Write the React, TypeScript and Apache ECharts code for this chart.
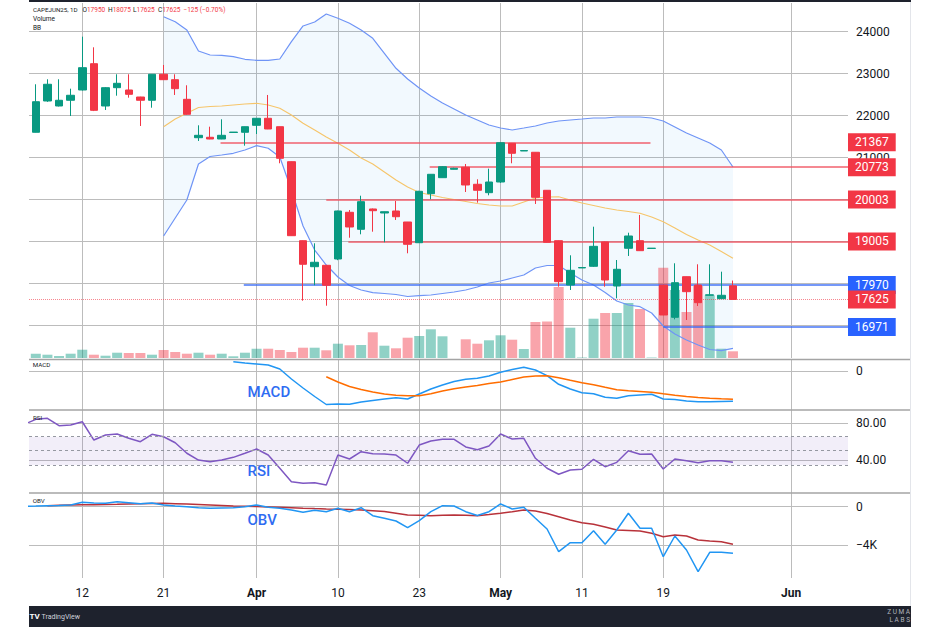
import React, { useEffect, useRef } from 'react';
import * as echarts from 'echarts';

// ---------- price bars (index 0..60) ----------
const opens = [21605, 22350, 22231, 22367, 22612, 23238, 22231, 22667, 22612, 22445, 22367, 22986, 22857, 22390, 21476, 21486, 21445, 21600, 21605, 21771, 21938, 21738, 20905, 19024, 18405, 18438, 18588, 19700, 19295, 19779, 19683, 19731, 19469, 18976, 20143, 20524, 20724, 20771, 20367, 20167, 20421, 21343, 21160, 21129, 20224, 19024, 17969, 18375, 18414, 18993, 17945, 18843, 19024, 18840, 17969, 17200, 18167, 17969, 17725, 17643, 17950];
const closes = [22333, 22748, 22367, 22486, 23143, 22128, 22667, 22771, 22509, 22367, 22986, 22857, 22643, 22033, 21533, 21445, 21533, 21610, 21738, 21938, 21683, 20986, 19143, 18462, 18510, 17962, 19731, 19350, 19953, 19738, 19714, 19595, 18938, 20200, 20605, 20786, 20748, 20350, 20224, 20421, 21357, 21105, 21170, 20057, 18986, 18048, 18319, 18385, 18890, 18088, 18343, 19136, 18786, 18845, 17255, 18024, 17810, 17548, 17735, 17724, 17625];
const lows = [21600, 22330, 22220, 21993, 22600, 22110, 22136, 22476, 22429, 21755, 22190, 22850, 22493, 22020, 21398, 21440, 21440, 21600, 21286, 21564, 21680, 20867, 19140, 17595, 17962, 17476, 18560, 19095, 19176, 19238, 18986, 19517, 18724, 18970, 20010, 20520, 20720, 20183, 19929, 20105, 20400, 20867, 21160, 19898, 18980, 17929, 17850, 18375, 18400, 17929, 17652, 18660, 18780, 18840, 17250, 17152, 17136, 17469, 17720, 17640, 17625];
const highs = [22748, 22867, 22867, 22643, 23881, 23628, 22680, 22986, 22986, 22450, 22990, 23207, 22986, 22724, 21771, 21738, 21914, 21610, 21740, 21940, 22493, 21740, 20910, 19030, 18962, 18440, 19740, 19755, 20095, 19790, 19720, 19969, 19470, 20210, 20610, 20800, 20760, 20850, 20486, 20738, 21367, 21350, 21175, 21135, 20230, 19030, 18676, 18390, 19357, 19000, 18564, 19214, 19636, 18848, 17975, 18486, 18170, 18462, 18462, 18286, 18075];
const volumes = [43, 33, 20, 43, 83, 33, 23, 53, 50, 50, 33, 80, 60, 43, 53, 33, 43, 17, 53, 93, 93, 80, 60, 103, 103, 77, 143, 127, 130, 257, 123, 97, 203, 220, 287, 217, 0, 187, 143, 177, 227, 183, 90, 360, 365, 710, 303, 5, 393, 450, 450, 550, 490, 5, 903, 680, 460, 720, 627, 93, 67];

// ---------- Bollinger Bands (from bar 11) ----------
const bbStart = 11;
const bbUpper = [24357, 24238, 24040, 23540, 23445, 23438, 23405, 23343, 23319, 23319, 23350, 23762, 24136, 24231, 24421, 24319, 24200, 24040, 23843, 23486, 23129, 22874, 22659, 22469, 22302, 22160, 22017, 21898, 21779, 21707, 21660, 21707, 21755, 21826, 21874, 21898, 21921, 21945, 21945, 21969, 21969, 21969, 21945, 21874, 21731, 21588, 21469, 21350, 21183, 20779];
const bbBasis = [21738, 21921, 22057, 22195, 22219, 22231, 22255, 22278, 22295, 22255, 22176, 22017, 21819, 21660, 21493, 21343, 21183, 20993, 20850, 20660, 20469, 20302, 20171, 20112, 20052, 20005, 19957, 19909, 19874, 19850, 19850, 19945, 20040, 20064, 20071, 19993, 19921, 19862, 19802, 19755, 19719, 19676, 19588, 19476, 19326, 19171, 19040, 18921, 18766, 18605];
const bbLower = [19136, 19564, 19993, 20850, 21029, 21064, 21105, 21183, 21286, 21224, 21017, 20231, 19374, 18802, 18445, 18159, 17957, 17850, 17786, 17767, 17743, 17695, 17714, 17731, 17767, 17802, 17850, 17921, 18017, 18064, 18136, 18207, 18374, 18433, 18433, 18255, 18088, 17969, 17790, 17588, 17493, 17452, 17302, 16993, 16802, 16659, 16540, 16433, 16405, 16462];

// ---------- MACD ----------
const macdStart = 17;
const macdLine = [186, 160, 140, 120, 40, -160, -340, -510, -670, -660, -666, -620, -590, -560, -534, -560, -460, -360, -280, -210, -166, -146, -100, -26, 30, 74, 20, -94, -266, -360, -434, -454, -526, -546, -494, -480, -466, -560, -570, -600, -614, -614, -610, -606];
const signalStart = 25;
const signalLine = [-114, -220, -310, -370, -420, -460, -486, -496, -494, -454, -400, -356, -320, -290, -250, -220, -170, -120, -100, -94, -134, -186, -234, -274, -326, -376, -396, -410, -426, -456, -484, -510, -530, -544, -556, -566];

// ---------- RSI ----------
const rsiStart = -1;
const rsiValues = [78.8, 84.3, 85.4, 77.4, 78.2, 81.7, 61.9, 67.4, 68.4, 63.8, 60.1, 68.1, 65.5, 59.0, 47.6, 40.3, 38.5, 40.3, 43.2, 47.6, 52.2, 45.7, 31.4, 16.9, 15.1, 15.8, 13.3, 45.7, 41.4, 49.3, 47.1, 46.8, 45.7, 36.8, 56.5, 60.9, 62.7, 62.7, 54.4, 51.5, 55.5, 68.4, 63.0, 63.8, 42.2, 31.4, 24.9, 29.5, 30.3, 41.1, 33.1, 37.8, 50.4, 46.5, 46.8, 30.6, 41.4, 39.6, 37.4, 39.6, 39.6, 37.8];
const rsiBands = [65.5, 51, 35];

// ---------- OBV ----------
const obvStart = -1;
const obvValues = [52, 73, 104, 125, 177, 459, 386, 355, 522, 418, 313, 386, 177, 73, 0, -104, -167, -136, -104, 0, 177, -63, -167, -345, -585, -376, -522, -167, -522, -104, -940, -1211, -1493, -2192, -1462, -522, 104, 73, -522, -919, -522, 282, -240, -63, -1211, -2328, -4698, -3758, -3758, -2506, -3925, -2433, -689, -2255, -2255, -5220, -3059, -4520, -6786, -4761, -4761, -4865];
const obvMaStart = 1;
const obvMa = [104, 140, 177, 195, 209, 230, 250, 280, 303, 330, 355, 320, 282, 230, 177, 125, 73, 47, 21, -20, -63, -110, -157, -200, -240, -265, -292, -345, -420, -501, -680, -866, -900, -940, -900, -866, -900, -940, -820, -689, -520, -345, -449, -710, -1044, -1389, -1670, -1837, -2119, -2433, -2485, -2537, -2777, -3132, -2954, -3059, -3477, -3581, -3654, -3925];

// ---------- ticks ----------
const dateTickIdx = [4, 11, 19, 26, 33, 40, 47, 54, 65];
const dateTickText = ['12', '21', 'Apr', '10', '23', 'May', '11', '19', 'Jun'];
const monthNames = ['Apr', 'May', 'Jun'];
const priceTicks = [17000, 18000, 19000, 20000, 21000, 22000, 23000, 24000];
const macdTicks = [0];
const rsiTicks = [40, 80];
const obvTicks = [-4000, 0];

// ---------- drawn levels ----------
const levelValues = [21367, 20773, 20003, 19005, 17970, 16971];
const levelFrom = [15.9, 33.9, 25, 26.9, 17.9, 54];
const levelTo: (number | null)[] = [52.9, null, null, null, null, null];
const levelKinds = ['r', 'r', 'r', 'r', 'b', 'b'];
const lastClose = 17625;
const boxValues = [21367, 20773, 20003, 19005, 17970, 17625, 16971];
const boxKinds = ['r', 'r', 'r', 'r', 'b', 'r', 'b'];

const headerTitle = 'CAPEJUN25, 1D';
const headerParts = [
  { label: 'O', value: '17950' },
  { label: 'H', value: '18075' },
  { label: 'L', value: '17625' },
  { label: 'C', value: '17625' },
];
const headerChange = '−125 (−0.70%)';

// ---------- layout constants ----------
const XMIN = -0.585;
const XMAX = 69.9;
const PMIN = 16231;
const PMAX = 24683;
const GRID_LEFT = 29;
const GRID_W = 819;
const UP = '#089981';
const DOWN = '#F23645';
const BLUE = '#2962FF';
const GRIDC = '#bcbcbc';
const FONT = 'Roboto';

const pairs = (start: number, arr: number[]) => arr.map((v, k) => [start + k, v]);

export default function App() {
  const ref = useRef<HTMLDivElement>(null);

  useEffect(() => {
    if (!ref.current) return;
    const chart = echarts.init(ref.current, undefined, { renderer: 'svg' });

    const xAxis = (gi: number, showLabel: boolean) => ({
      type: 'value',
      gridIndex: gi,
      min: XMIN,
      max: XMAX,
      axisLine: { show: false },
      axisTick: { show: false, customValues: dateTickIdx },
      splitLine: { show: true, lineStyle: { color: GRIDC, width: 1 } },
      axisLabel: {
        show: showLabel,
        customValues: dateTickIdx,
        margin: 9,
        fontSize: 12,
        fontFamily: FONT,
        color: '#131722',
        formatter: (v: number) => {
          const k = dateTickIdx.indexOf(Math.round(v));
          const t = k >= 0 ? dateTickText[k] : '';
          return monthNames.indexOf(t) >= 0 ? `{m|${t}}` : t;
        },
        rich: { m: { fontWeight: 'bold', fontSize: 12, fontFamily: FONT, color: '#131722' } },
      },
    });

    const labelStyle = { fontSize: 12, fontFamily: FONT, color: '#131722', margin: 8 };

    const yAxis = (gi: number, min: number, max: number, ticks: number[], fmt: (v: number) => string) => ({
      type: 'value',
      gridIndex: gi,
      position: 'right',
      min,
      max,
      axisLine: { show: false },
      axisTick: { show: false, customValues: ticks },
      splitLine: { show: true, lineStyle: { color: GRIDC, width: 1 } },
      axisLabel: { ...labelStyle, customValues: ticks, formatter: fmt },
      z: 1,
    });

    const boxRich = {
      r: { backgroundColor: DOWN, color: '#ffffff', fontSize: 12, fontFamily: FONT, padding: [3, 7, 3, 7] },
      b: { backgroundColor: BLUE, color: '#ffffff', fontSize: 12, fontFamily: FONT, padding: [3, 7, 3, 7] },
    };

    const levelLines: any[] = levelValues.map((v, k) => [
      {
        coord: [levelFrom[k], v],
        lineStyle: { color: levelKinds[k] === 'r' ? '#f0505d' : '#3366f5', width: 1.6, type: 'solid', opacity: 0.9 },
      },
      { coord: [levelTo[k] == null ? XMAX : levelTo[k], v] },
    ]);
    levelLines.push([
      { coord: [XMIN, lastClose], lineStyle: { color: DOWN, width: 1, type: 'dotted', opacity: 0.6 } },
      { coord: [XMAX, lastClose] },
    ]);

    const txt = (x: number, y: number, text: string, extra: any = {}) => ({
      type: 'text',
      x,
      y,
      silent: true,
      z: 100,
      style: { text, fill: '#131722', fontSize: 6.5, fontFamily: FONT, verticalAlign: 'middle', align: 'left', ...extra },
    });

    const headerXs = [82.5, 108, 133, 158];

    const graphic: any[] = [
      { type: 'rect', silent: true, z: 90, shape: { x: 29, y: 0, width: 882, height: 2 }, style: { fill: '#1e222d' } },
      { type: 'rect', silent: true, z: 90, shape: { x: 29, y: 606, width: 882, height: 21 }, style: { fill: '#1e222d' } },
      ...[359.5, 410, 493].map((y) => ({
        type: 'line', silent: true, z: 90,
        shape: { x1: 29, y1: y, x2: 911, y2: y },
        style: { stroke: '#a4a4a4', lineWidth: 1.5 },
      })),
      { type: 'line', silent: true, z: 90, shape: { x1: 910.5, y1: 2, x2: 910.5, y2: 606 }, style: { stroke: '#e3e5ea', lineWidth: 1 } },
      txt(33, 9.5, headerTitle, { fontSize: 6.2 }),
      ...headerParts.map((p, k) => txt(headerXs[k], 9.5, `${p.label}{r|${p.value}}`, { rich: { r: { fill: DOWN, fontSize: 6.5, fontFamily: FONT } } })),
      txt(183.5, 9.5, headerChange, { fill: DOWN }),
      txt(33, 18.7, 'Volume'),
      txt(33, 27.5, 'BB'),
      txt(32.7, 364.6, 'MACD', { fontSize: 6.2 }),
      txt(33, 418, 'RSI', { fontSize: 6.2 }),
      txt(32.7, 500.8, 'OBV', { fontSize: 6.2 }),
      txt(247.5, 392, 'MACD', { fill: '#2f6cf2', fontSize: 15, fontWeight: 500 }),
      txt(247.5, 471, 'RSI', { fill: '#2f6cf2', fontSize: 15, fontWeight: 500 }),
      txt(247.5, 520, 'OBV', { fill: '#2f6cf2', fontSize: 15, fontWeight: 500 }),
      txt(29.5, 616.5, 'TV', { fill: '#ffffff', fontSize: 8, fontWeight: 'bold' }),
      txt(41.5, 616.5, 'TradingView', { fill: '#d1d4dc', fontSize: 7 }),
      txt(910, 611.5, 'Z U M A', { fill: '#b2b5be', fontSize: 6.5, align: 'right' }),
      txt(910, 619.5, 'L A B S', { fill: '#b2b5be', fontSize: 6.5, align: 'right' }),
    ];

    const option: any = {
      animation: false,
      textStyle: { fontFamily: FONT },
      grid: [
        { left: GRID_LEFT, width: GRID_W, top: 3, height: 355, containLabel: false },
        { left: GRID_LEFT, width: GRID_W, top: 360, height: 50, containLabel: false },
        { left: GRID_LEFT, width: GRID_W, top: 410, height: 83, containLabel: false },
        { left: GRID_LEFT, width: GRID_W, top: 493, height: 85, containLabel: false },
      ],
      xAxis: [xAxis(0, false), xAxis(1, false), xAxis(2, false), xAxis(3, true)],
      yAxis: [
        yAxis(0, PMIN, PMAX, priceTicks, (v) => String(v)),
        {
          type: 'value', gridIndex: 0, position: 'right', min: PMIN, max: PMAX, z: 10,
          axisLine: { show: false },
          axisTick: { show: false, customValues: boxValues },
          splitLine: { show: false },
          axisLabel: {
            margin: 0,
            customValues: boxValues,
            formatter: (v: number) => {
              const k = boxValues.indexOf(Math.round(v));
              return `{${k >= 0 ? boxKinds[k] : 'r'}|${Math.round(v)}}`;
            },
            rich: boxRich,
          },
        },
        { type: 'value', gridIndex: 0, min: 0, max: 3550, show: false, splitLine: { show: false } },
        yAxis(1, -780, 220, macdTicks, (v) => String(v)),
        yAxis(2, 4.65, 94.38, rsiTicks, (v) => v.toFixed(2)),
        yAxis(3, -7444, 1430, obvTicks, (v) => (v === 0 ? '0' : '−' + Math.abs(v) / 1000 + 'K')),
      ],
      graphic,
      series: [
        {
          type: 'custom', xAxisIndex: 0, yAxisIndex: 0, z: 1, silent: true, clip: true,
          data: [[bbStart, bbUpper[0]]],
          renderItem: (params: any, api: any) => {
            const top = bbUpper.map((v, k) => api.coord([bbStart + k, v]));
            const bot = bbLower.map((v, k) => api.coord([bbStart + k, v])).reverse();
            return { type: 'polygon', shape: { points: top.concat(bot) }, style: { fill: 'rgba(33,150,243,0.06)' } };
          },
        },
        {
          type: 'bar', xAxisIndex: 0, yAxisIndex: 2, z: 2, silent: true, barWidth: 10,
          data: volumes.map((v, i) => ({
            value: [i, v],
            itemStyle: { color: closes[i] >= opens[i] ? 'rgba(8,153,129,0.45)' : 'rgba(242,54,69,0.45)' },
          })),
        },
        {
          type: 'line', xAxisIndex: 0, yAxisIndex: 0, z: 3, silent: true, symbol: 'none',
          data: pairs(bbStart, bbUpper), lineStyle: { color: '#6f94f6', width: 1.2 },
        },
        {
          type: 'line', xAxisIndex: 0, yAxisIndex: 0, z: 3, silent: true, symbol: 'none',
          data: pairs(bbStart, bbLower), lineStyle: { color: '#6f94f6', width: 1.2 },
        },
        {
          type: 'line', xAxisIndex: 0, yAxisIndex: 0, z: 3, silent: true, symbol: 'none',
          data: pairs(bbStart, bbBasis), lineStyle: { color: '#f6c56a', width: 1.1 },
          markLine: { silent: true, symbol: 'none', label: { show: false }, animation: false, data: levelLines },
        },
        {
          type: 'candlestick', xAxisIndex: 0, yAxisIndex: 0, z: 5, silent: true, barWidth: 8,
          data: opens.map((o, i) => [i, o, closes[i], lows[i], highs[i]]),
          itemStyle: { color: UP, color0: DOWN, borderColor: UP, borderColor0: DOWN, borderWidth: 1 },
        },
        {
          type: 'line', xAxisIndex: 1, yAxisIndex: 3, silent: true, symbol: 'none',
          data: pairs(macdStart, macdLine), lineStyle: { color: '#2196F3', width: 1.5 },
        },
        {
          type: 'line', xAxisIndex: 1, yAxisIndex: 3, silent: true, symbol: 'none',
          data: pairs(signalStart, signalLine), lineStyle: { color: '#FF6D00', width: 1.5 },
        },
        {
          type: 'line', xAxisIndex: 2, yAxisIndex: 4, silent: true, symbol: 'none',
          data: pairs(rsiStart, rsiValues), lineStyle: { color: '#7E57C2', width: 1.5 },
          markArea: {
            silent: true,
            itemStyle: { color: 'rgba(126,87,194,0.1)' },
            data: [[{ yAxis: rsiBands[2] }, { yAxis: rsiBands[0] }]],
          },
          markLine: {
            silent: true, symbol: 'none', label: { show: false },
            lineStyle: { color: '#9598a1', type: [3, 3], width: 1 },
            data: rsiBands.map((b) => ({ yAxis: b })),
          },
        },
        {
          type: 'line', xAxisIndex: 3, yAxisIndex: 5, silent: true, symbol: 'none',
          data: pairs(obvMaStart, obvMa), lineStyle: { color: '#b8323a', width: 1.5 },
        },
        {
          type: 'line', xAxisIndex: 3, yAxisIndex: 5, silent: true, symbol: 'none',
          data: pairs(obvStart, obvValues), lineStyle: { color: '#2196F3', width: 1.5 },
        },
      ],
    };

    chart.setOption(option);
    return () => chart.dispose();
  }, []);

  return (
    <div
      ref={ref}
      style={{ position: 'fixed', left: 0, top: 0, width: 940, height: 627, background: '#ffffff' }}
    />
  );
}
